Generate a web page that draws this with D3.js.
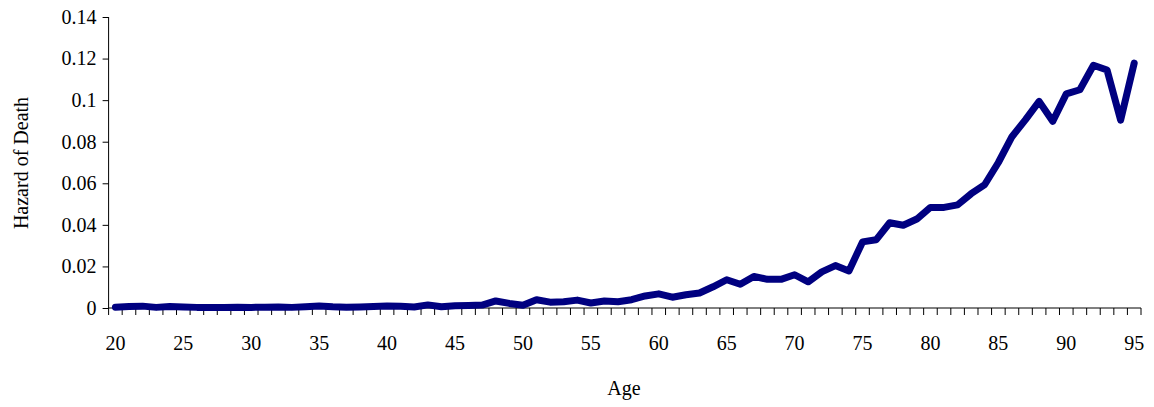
<!DOCTYPE html>
<html><head><meta charset="utf-8">
<script src="https://cdn.jsdelivr.net/npm/d3@7"></script>
<style>body{margin:0;background:#fff}text{font-family:"Liberation Serif","Times New Roman",serif}</style>
</head><body>
<script>
var ages = d3.range(20, 96);
var hazard = [
  0.0004, 0.0007, 0.0009, 0.0003, 0.0007, 0.0005, 0.0003, 0.0003, 0.0002, 0.0004,
  0.0003, 0.0004, 0.0005, 0.0003, 0.0006, 0.0010, 0.0006, 0.0004, 0.0005, 0.0007,
  0.0010, 0.0008, 0.0005, 0.0015, 0.0006, 0.0011, 0.0012, 0.0014, 0.0034, 0.0022,
  0.0013, 0.0040, 0.0028, 0.0030, 0.0038, 0.0024, 0.0034, 0.0030, 0.0040, 0.0058,
  0.0068, 0.0052, 0.0064, 0.0072, 0.0102, 0.0136, 0.0114, 0.0152, 0.0138, 0.0138,
  0.0160, 0.0126, 0.0174, 0.0204, 0.0178, 0.0318, 0.0328, 0.0410, 0.0398, 0.0428,
  0.0484, 0.0484, 0.0496, 0.0550, 0.0594, 0.0700, 0.0824, 0.0906, 0.0994, 0.0898,
  0.1030, 0.1050, 0.1168, 0.1145, 0.0904, 0.1178
];
var yTicks = [0, 0.02, 0.04, 0.06, 0.08, 0.1, 0.12, 0.14];
var xLabels = [20, 25, 30, 35, 40, 45, 50, 55, 60, 65, 70, 75, 80, 85, 90, 95];

var W = 1154, H = 407, mLeft = 108.6, mRight = 1141, mTop = 17, mBottom = 308;
var svg = d3.select("body").append("svg").attr("width", W).attr("height", H);
var x = d3.scaleBand().domain(ages).range([mLeft, mRight]);
var y = d3.scaleLinear().domain([0, 0.14]).range([mBottom, mTop]);

var ya = svg.append("g").attr("transform", "translate(" + mLeft + ",0)")
  .call(d3.axisLeft(y).tickValues(yTicks).tickSize(6).tickFormat(d => d === 0 ? "0" : String(+d.toFixed(2))));
ya.selectAll("text").attr("font-size", 20).attr("x", -12).attr("fill", "#000");
ya.select(".domain").attr("d", "M0," + mTop + "V" + mBottom).attr("stroke", "#000");

var xa = svg.append("g").attr("transform", "translate(0," + mBottom + ")");
xa.append("line").attr("x1", mLeft).attr("x2", mRight).attr("stroke", "#000");
xa.selectAll("line.t").data(ages.concat([96])).enter().append("line")
  .attr("x1", d => d === 96 ? mRight : x(d)).attr("x2", d => d === 96 ? mRight : x(d))
  .attr("y1", 0).attr("y2", 7).attr("stroke", "#000");
xa.selectAll("text").data(xLabels).enter().append("text")
  .attr("x", d => x(d) + x.bandwidth() / 2).attr("y", 42)
  .attr("text-anchor", "middle").attr("font-size", 20).text(d => d);

var line = d3.line().x((d, i) => x(ages[i]) + x.bandwidth() / 2).y(d => y(d));
svg.append("path").attr("d", line(hazard)).attr("fill", "none")
  .attr("stroke", "#000080").attr("stroke-width", 7).attr("stroke-linejoin", "round").attr("stroke-linecap", "round");

svg.append("text").attr("x", 624).attr("y", 395).attr("text-anchor", "middle").attr("font-size", 20).text("Age");
svg.append("text").attr("transform", "translate(28,163) rotate(-90)").attr("text-anchor", "middle").attr("font-size", 20).text("Hazard of Death");
</script>
</body></html>
